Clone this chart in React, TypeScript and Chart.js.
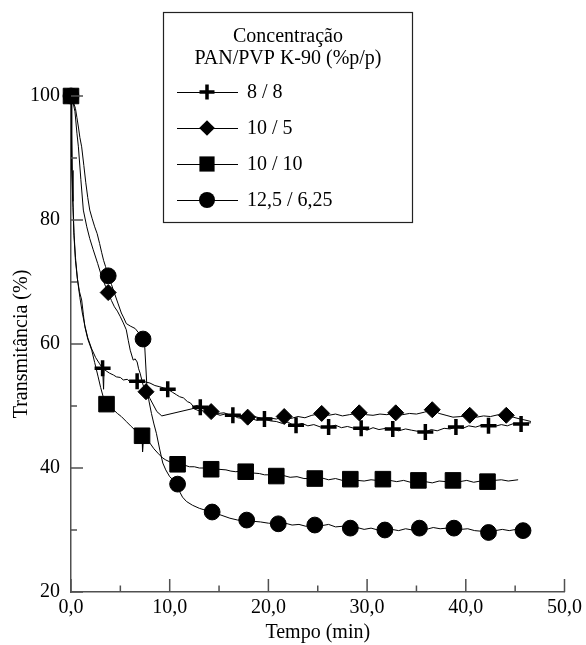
import React, { useEffect, useRef } from 'react';
import { Chart, registerables } from 'chart.js';

Chart.register(...registerables);

type Pt = [number, number];

const FONT = "'Liberation Serif', 'Times New Roman', serif";
const AXIS_COLOR = '#505050';

const seriesLabels = ['8 / 8', '10 / 5', '10 / 10', '12,5 / 6,25'];
const seriesStyles = ['cross', 'rectRot', 'rect', 'circle'];
const legendTitle = ['Concentração', 'PAN/PVP K-90 (%p/p)'];

const xMajorTicks = [0, 10, 20, 30, 40, 50];
const xMinorTicks = [5, 15, 25, 35, 45];
const xTickLabels = ['0,0', '10,0', '20,0', '30,0', '40,0', '50,0'];
const yMajorTicks = [20, 40, 60, 80, 100];
const yMinorTicks = [30, 50, 70, 90];
const yTickLabels = ['20', '40', '60', '80', '100'];

// 8 / 8 trace
const line88: Pt[] = [
  [0, 100], [0.05, 94], [0.12, 88], [0.2, 83], [0.3, 78], [0.45, 74], [0.65, 70.5], [0.9, 67.5],
  [1.15, 65], [1.4, 63], [1.7, 61], [2.1, 59.2], [2.5, 57.8], [2.9, 56.8], [3.2, 56.1], [3.3, 52.7],
  [3.35, 55.9], [3.9, 55.3], [4.3, 55.0], [4.6, 54.7], [5.0, 54.6], [5.3, 54.2], [5.7, 54.3], [6.0, 53.9],
  [6.4, 54.1], [6.7, 54.0], [7.1, 53.8], [7.5, 53.9], [8.0, 53.7], [8.5, 53.3], [9.0, 53.1], [9.4, 52.9],
  [9.8, 52.7], [10.3, 52.2], [10.7, 51.8], [11.0, 51.5], [11.4, 51.3], [11.8, 50.7], [12.1, 50.5], [12.4, 49.9],
  [12.8, 50.1], [13.1, 49.8], [13.6, 49.4], [14.1, 49.2], [14.6, 48.8], [15.1, 48.5], [15.6, 48.7], [16.0, 48.4],
  [16.4, 48.5], [16.9, 48.1], [17.4, 48.0], [17.9, 47.8], [18.4, 47.9], [18.8, 47.7], [19.2, 47.9], [19.6, 47.9],
  [20.2, 47.6], [20.8, 47.5], [21.4, 47.2], [22.0, 47.4], [22.4, 47.0], [22.8, 46.9], [23.4, 47.2], [24.0, 46.8],
  [24.6, 47.0], [25.3, 46.6], [26.1, 46.6], [26.8, 46.9], [27.4, 46.5], [28.0, 46.7], [28.7, 46.4], [29.4, 46.4],
  [30.0, 46.1], [30.6, 46.5], [31.2, 46.2], [31.9, 46.4], [32.6, 46.3], [33.2, 46.0], [33.9, 46.3], [34.5, 46.1],
  [35.2, 45.9], [35.9, 45.8], [36.5, 46.2], [37.1, 46.0], [37.8, 46.4], [38.4, 46.3], [39.0, 46.6], [39.7, 46.4],
  [40.3, 46.8], [41.0, 46.6], [41.6, 46.9], [42.3, 46.8], [42.9, 46.7], [43.6, 47.0], [44.2, 46.8], [44.9, 47.2],
  [45.6, 47.1], [46.1, 47.2], [46.6, 47.3],
];

// 10 / 5 trace
const line105: Pt[] = [
  [0, 100], [0.2, 99], [0.4, 97.5], [0.6, 94], [0.75, 91.8], [1.0, 86.5], [1.25, 81.6], [1.6, 78.9],
  [1.9, 77.0], [2.25, 75.2], [2.7, 73.0], [3.1, 70.9], [3.5, 69.3], [3.77, 68.3], [4.1, 67.0], [4.4, 66.0],
  [4.7, 65.3], [5.0, 64.4], [5.3, 63.4], [5.6, 62.3], [5.8, 60.6], [6.0, 59.0], [6.3, 57.4], [6.5, 57.6],
  [6.7, 57.1], [6.85, 56.0], [7.0, 55.3], [7.3, 53.4], [7.6, 52.3], [8.0, 51.2], [8.4, 50.0], [8.7, 49.1],
  [9.2, 48.4], [12.4, 49.6], [13.0, 49.2], [13.6, 49.4], [14.2, 49.1], [14.9, 48.8], [15.5, 48.9], [16.2, 48.5],
  [16.9, 48.6], [17.9, 48.2], [18.6, 48.3], [19.3, 48.0], [20.0, 48.1], [20.8, 47.9], [21.6, 48.3], [22.3, 48.0],
  [23.0, 48.3], [23.7, 48.1], [24.4, 48.5], [25.4, 48.8], [26.1, 48.5], [26.8, 48.7], [27.5, 48.4], [28.2, 48.6],
  [29.2, 48.9], [29.9, 48.6], [30.6, 48.5], [31.3, 48.7], [32.0, 48.6], [32.9, 48.9], [33.6, 48.6], [34.3, 48.8],
  [35.0, 48.7], [35.8, 49.0], [36.6, 49.4], [37.3, 48.8], [38.0, 48.5], [38.7, 48.2], [39.5, 48.3], [40.4, 48.5],
  [41.1, 48.2], [41.8, 48.4], [42.5, 48.3], [43.3, 48.6], [44.1, 48.5], [44.8, 48.2], [45.5, 47.9], [46.1, 47.7],
  [46.6, 47.5],
];

// 10 / 10 trace
const line1010: Pt[] = [
  [0, 100], [0.05, 93], [0.1, 88], [0.2, 82], [0.3, 77.5], [0.45, 73.5], [0.65, 70.5], [0.85, 68.5],
  [1.08, 67.1], [1.25, 64.8], [1.4, 62.8], [1.7, 60.8], [2.1, 59.0], [2.4, 57.0], [2.75, 54.7], [3.0, 53.0],
  [3.26, 51.5], [3.6, 50.3], [3.9, 49.9], [4.3, 49.4], [4.7, 48.8], [5.1, 48.3], [5.6, 47.5], [6.1, 46.7],
  [6.5, 46.1], [6.8, 45.6], [7.2, 45.2], [7.25, 42.6], [7.35, 44.9], [7.7, 44.5], [8.0, 44.0], [8.4, 43.1],
  [8.8, 42.4], [9.3, 41.6], [9.6, 41.3], [10.0, 41.0], [10.4, 40.8], [10.8, 40.6], [11.4, 40.5], [12.0, 40.2],
  [12.5, 40.2], [13.0, 40.0], [13.6, 40.0], [14.2, 39.8], [14.9, 39.8], [15.7, 39.7], [16.2, 39.5], [16.7, 39.4],
  [17.2, 39.5], [17.7, 39.4], [18.4, 39.2], [19.1, 39.1], [19.6, 38.9], [20.2, 38.9], [20.8, 38.7], [21.5, 38.8],
  [22.2, 38.5], [22.9, 38.6], [23.6, 38.3], [24.7, 38.3], [25.4, 38.4], [26.1, 38.1], [26.8, 38.3], [27.5, 38.0],
  [28.3, 38.2], [29.0, 38.0], [29.7, 37.9], [30.4, 38.1], [31.0, 38.0], [31.6, 38.2], [32.3, 38.0], [33.0, 37.8],
  [33.7, 38.0], [34.4, 37.7], [35.2, 38.0], [35.9, 37.8], [36.6, 37.6], [37.3, 37.9], [38.0, 37.8], [38.7, 38.0],
  [39.4, 37.8], [40.1, 38.0], [40.8, 37.7], [41.5, 37.9], [42.2, 37.8], [42.9, 38.0], [43.6, 38.1], [44.3, 37.9],
  [45.3, 38.1],
];

// 12,5 / 6,25 trace
const line125: Pt[] = [
  [0, 100], [0.2, 99.2], [0.45, 98], [0.6, 96.5], [0.75, 95], [0.9, 93.3], [1.08, 91.8], [1.3, 88.8],
  [1.5, 86.0], [1.7, 83.6], [1.9, 81.6], [2.15, 80.2], [2.4, 78.9], [2.65, 77.8], [2.9, 76.2], [3.1, 74.8],
  [3.3, 73.5], [3.5, 72.5], [3.77, 71.0], [4.1, 69.6], [4.4, 68.2], [4.75, 66.6], [5.1, 65.0], [5.35, 64.2],
  [5.6, 63.3], [6.0, 62.9], [6.5, 62.5], [6.9, 61.7], [7.3, 60.8], [7.47, 59.6], [7.7, 52.9], [7.9, 50.8],
  [8.15, 48.8], [8.4, 47.1], [8.65, 45.6], [9.0, 42.9], [9.3, 40.8], [9.6, 39.7], [10.0, 38.6], [10.4, 38.0],
  [10.8, 37.4], [11.0, 36.2], [11.3, 35.3], [11.7, 34.6], [12.3, 34.0], [13.0, 33.5], [13.6, 33.2], [14.3, 32.9],
  [15.2, 32.4], [16.1, 31.9], [16.9, 31.6], [17.8, 31.6], [18.5, 31.4], [19.2, 31.3], [20.0, 31.1], [21.0, 31.0],
  [21.7, 31.1], [22.4, 30.8], [23.1, 30.9], [23.8, 30.6], [24.7, 30.8], [25.4, 30.7], [26.1, 30.9], [26.8, 30.5],
  [27.5, 30.6], [28.3, 30.3], [29.0, 30.4], [29.7, 30.1], [30.4, 30.3], [31.1, 30.0], [31.8, 30.0], [32.5, 30.1],
  [33.2, 29.9], [33.9, 30.2], [34.6, 30.0], [35.3, 30.3], [36.0, 30.1], [36.7, 30.4], [37.4, 30.2], [38.1, 30.3],
  [38.8, 30.3], [39.5, 30.1], [40.2, 30.2], [40.9, 29.9], [41.6, 29.8], [42.3, 29.6], [43.0, 29.9], [43.7, 30.1],
  [44.4, 29.9], [45.1, 30.1], [45.8, 29.9], [46.1, 30.0],
];

const marks88: Pt[] = [
  [0, 100], [3.2, 56.1], [6.7, 54.0], [9.8, 52.7], [13.1, 49.8], [16.4, 48.5], [19.6, 47.9], [22.8, 46.9],
  [26.1, 46.6], [29.4, 46.4], [32.6, 46.3], [35.9, 45.8], [39.0, 46.6], [42.3, 46.8], [45.6, 47.1],
];
const marks105: Pt[] = [
  [0, 100], [3.77, 68.3], [7.6, 52.3], [14.2, 49.1], [17.9, 48.2], [21.6, 48.3], [25.4, 48.8], [29.2, 48.9],
  [32.9, 48.9], [36.6, 49.4], [40.4, 48.5], [44.1, 48.5],
];
const marks1010: Pt[] = [
  [0, 100], [3.6, 50.3], [7.2, 45.2], [10.8, 40.6], [14.2, 39.8], [17.7, 39.4], [20.8, 38.7], [24.7, 38.3],
  [28.3, 38.2], [31.6, 38.2], [35.2, 38.0], [38.7, 38.0], [42.2, 37.8],
];
const marks125: Pt[] = [
  [0, 100], [3.77, 71.0], [7.3, 60.8], [10.8, 37.4], [14.3, 32.9], [17.8, 31.6], [21.0, 31.0], [24.7, 30.8],
  [28.3, 30.3], [31.8, 30.0], [35.3, 30.3], [38.8, 30.3], [42.3, 29.6], [45.8, 29.9],
];

const toXY = (pts: Pt[]) => pts.map(([x, y]) => ({ x, y }));

function drawMarker(ctx: CanvasRenderingContext2D, style: string, x: number, y: number) {
  ctx.save();
  ctx.fillStyle = '#000';
  ctx.strokeStyle = '#000';
  ctx.beginPath();
  if (style === 'cross') {
    ctx.lineWidth = 3.5;
    ctx.moveTo(x - 7.5, y); ctx.lineTo(x + 7.5, y);
    ctx.moveTo(x, y - 7.5); ctx.lineTo(x, y + 7.5);
    ctx.stroke();
  } else if (style === 'rectRot') {
    const r = 7.8;
    ctx.moveTo(x, y - r); ctx.lineTo(x + r, y); ctx.lineTo(x, y + r); ctx.lineTo(x - r, y); ctx.closePath();
    ctx.fill();
  } else if (style === 'rect') {
    const h = 7.6;
    ctx.rect(x - h, y - h, 2 * h, 2 * h);
    ctx.fill();
  } else {
    ctx.arc(x, y, 8, 0, Math.PI * 2);
    ctx.fill();
  }
  ctx.restore();
}

const legendPlugin = {
  id: 'boxLegend',
  afterDraw(chart: any) {
    const ctx: CanvasRenderingContext2D = chart.ctx;
    const left = 163, top = 12, right = 412, bottom = 222;
    ctx.save();
    ctx.fillStyle = '#fff';
    ctx.fillRect(left, top, right - left, bottom - top);
    ctx.strokeStyle = '#222';
    ctx.lineWidth = 1.2;
    ctx.strokeRect(left + 0.5, top + 0.5, right - left, bottom - top);
    ctx.fillStyle = '#000';
    ctx.font = `20px ${FONT}`;
    ctx.textAlign = 'center';
    ctx.textBaseline = 'middle';
    ctx.fillText(legendTitle[0], 288, 37);
    ctx.fillText(legendTitle[1], 288, 59);
    const rows = [92, 128, 164, 200];
    seriesLabels.forEach((lab, i) => {
      const y = rows[i];
      ctx.strokeStyle = '#000';
      ctx.lineWidth = 1;
      ctx.beginPath();
      ctx.moveTo(177, y + 0.5);
      ctx.lineTo(238, y + 0.5);
      ctx.stroke();
      drawMarker(ctx, seriesStyles[i], 207, y);
      ctx.fillStyle = '#000';
      ctx.textAlign = 'left';
      ctx.textBaseline = 'middle';
      ctx.fillText(lab, 247, y + 1);
    });
    ctx.restore();
  },
};

const tickPlugin = {
  id: 'inwardTicks',
  afterDatasetsDraw(chart: any) {
    const { ctx, chartArea, scales } = chart;
    const xs = scales.x;
    const ys = scales.y;
    ctx.save();
    ctx.strokeStyle = AXIS_COLOR;
    ctx.lineWidth = 1.5;
    ctx.beginPath();
    xMajorTicks.forEach((v) => {
      const p = xs.getPixelForValue(v);
      ctx.moveTo(p, chartArea.bottom);
      ctx.lineTo(p, chartArea.bottom - 13);
    });
    xMinorTicks.forEach((v) => {
      const p = xs.getPixelForValue(v);
      ctx.moveTo(p, chartArea.bottom);
      ctx.lineTo(p, chartArea.bottom - 6.5);
    });
    yMajorTicks.forEach((v) => {
      const p = ys.getPixelForValue(v);
      ctx.moveTo(chartArea.left, p);
      ctx.lineTo(chartArea.left + 12, p);
    });
    yMinorTicks.forEach((v) => {
      const p = ys.getPixelForValue(v);
      ctx.moveTo(chartArea.left, p);
      ctx.lineTo(chartArea.left + 6, p);
    });
    ctx.stroke();
    ctx.restore();
  },
};

export default function App() {
  const ref = useRef<HTMLCanvasElement | null>(null);

  useEffect(() => {
    document.body.style.margin = '0';
    const canvas = ref.current;
    if (!canvas) return;

    const markerBase = {
      showLine: false,
      backgroundColor: '#000',
      borderColor: '#000',
      clip: false as any,
    };
    const lineBase = {
      showLine: true,
      borderColor: '#000',
      borderWidth: 1,
      pointRadius: 0,
      tension: 0,
      fill: false,
    };

    const chart = new Chart(canvas, {
      type: 'scatter',
      data: {
        datasets: [
          { ...markerBase, label: seriesLabels[2], data: toXY(marks1010), pointStyle: 'rect', pointRadius: 11, pointBorderWidth: 1 },
          { ...markerBase, label: seriesLabels[3], data: toXY(marks125), pointStyle: 'circle', pointRadius: 7.9, pointBorderWidth: 1 },
          { ...markerBase, label: seriesLabels[1], data: toXY(marks105), pointStyle: 'rectRot', pointRadius: 8, pointBorderWidth: 1 },
          { ...markerBase, label: seriesLabels[0], data: toXY(marks88), pointStyle: 'cross', pointRadius: 8, pointBorderWidth: 3.5 },
          { ...lineBase, label: seriesLabels[0] + ' linha', data: toXY(line88) },
          { ...lineBase, label: seriesLabels[1] + ' linha', data: toXY(line105) },
          { ...lineBase, label: seriesLabels[2] + ' linha', data: toXY(line1010) },
          { ...lineBase, label: seriesLabels[3] + ' linha', data: toXY(line125) },
        ] as any,
      },
      options: {
        responsive: false,
        animation: false,
        devicePixelRatio: 1,
        events: [],
        layout: { padding: { top: 96, right: 20, bottom: 0, left: 0 } },
        plugins: {
          legend: { display: false },
          tooltip: { enabled: false },
        },
        scales: {
          x: {
            type: 'linear',
            min: 0,
            max: 50,
            afterFit: (s: any) => { s.height = 53; },
            grid: { display: false, drawTicks: false },
            border: { display: true, color: AXIS_COLOR, width: 1.5 },
            ticks: {
              stepSize: 10,
              autoSkip: false,
              maxRotation: 0,
              padding: 4,
              color: '#000',
              font: { family: FONT, size: 20 },
              callback: (v: any) => {
                const i = xMajorTicks.indexOf(Number(v));
                return i >= 0 ? xTickLabels[i] : '';
              },
            },
            title: {
              display: true,
              text: 'Tempo (min)',
              color: '#000',
              font: { family: FONT, size: 20 },
              padding: { top: 0, bottom: 0 },
            },
          },
          y: {
            type: 'linear',
            min: 20,
            max: 100,
            afterFit: (s: any) => { s.width = 71; },
            grid: { display: false, drawTicks: false },
            border: { display: true, color: AXIS_COLOR, width: 1.5 },
            ticks: {
              stepSize: 20,
              autoSkip: false,
              padding: 11,
              color: '#000',
              font: { family: FONT, size: 20 },
              callback: (v: any) => {
                const i = yMajorTicks.indexOf(Number(v));
                return i >= 0 ? yTickLabels[i] : '';
              },
            },
            title: {
              display: true,
              text: 'Transmitância (%)',
              color: '#000',
              font: { family: FONT, size: 20 },
              padding: { top: 10, bottom: 0 },
            },
          },
        },
      } as any,
      plugins: [tickPlugin, legendPlugin],
    });

    return () => {
      chart.destroy();
    };
  }, []);

  return (
    <div style={{ width: 586, height: 645 }}>
      <canvas ref={ref} width={586} height={645} style={{ display: 'block' }} />
    </div>
  );
}
